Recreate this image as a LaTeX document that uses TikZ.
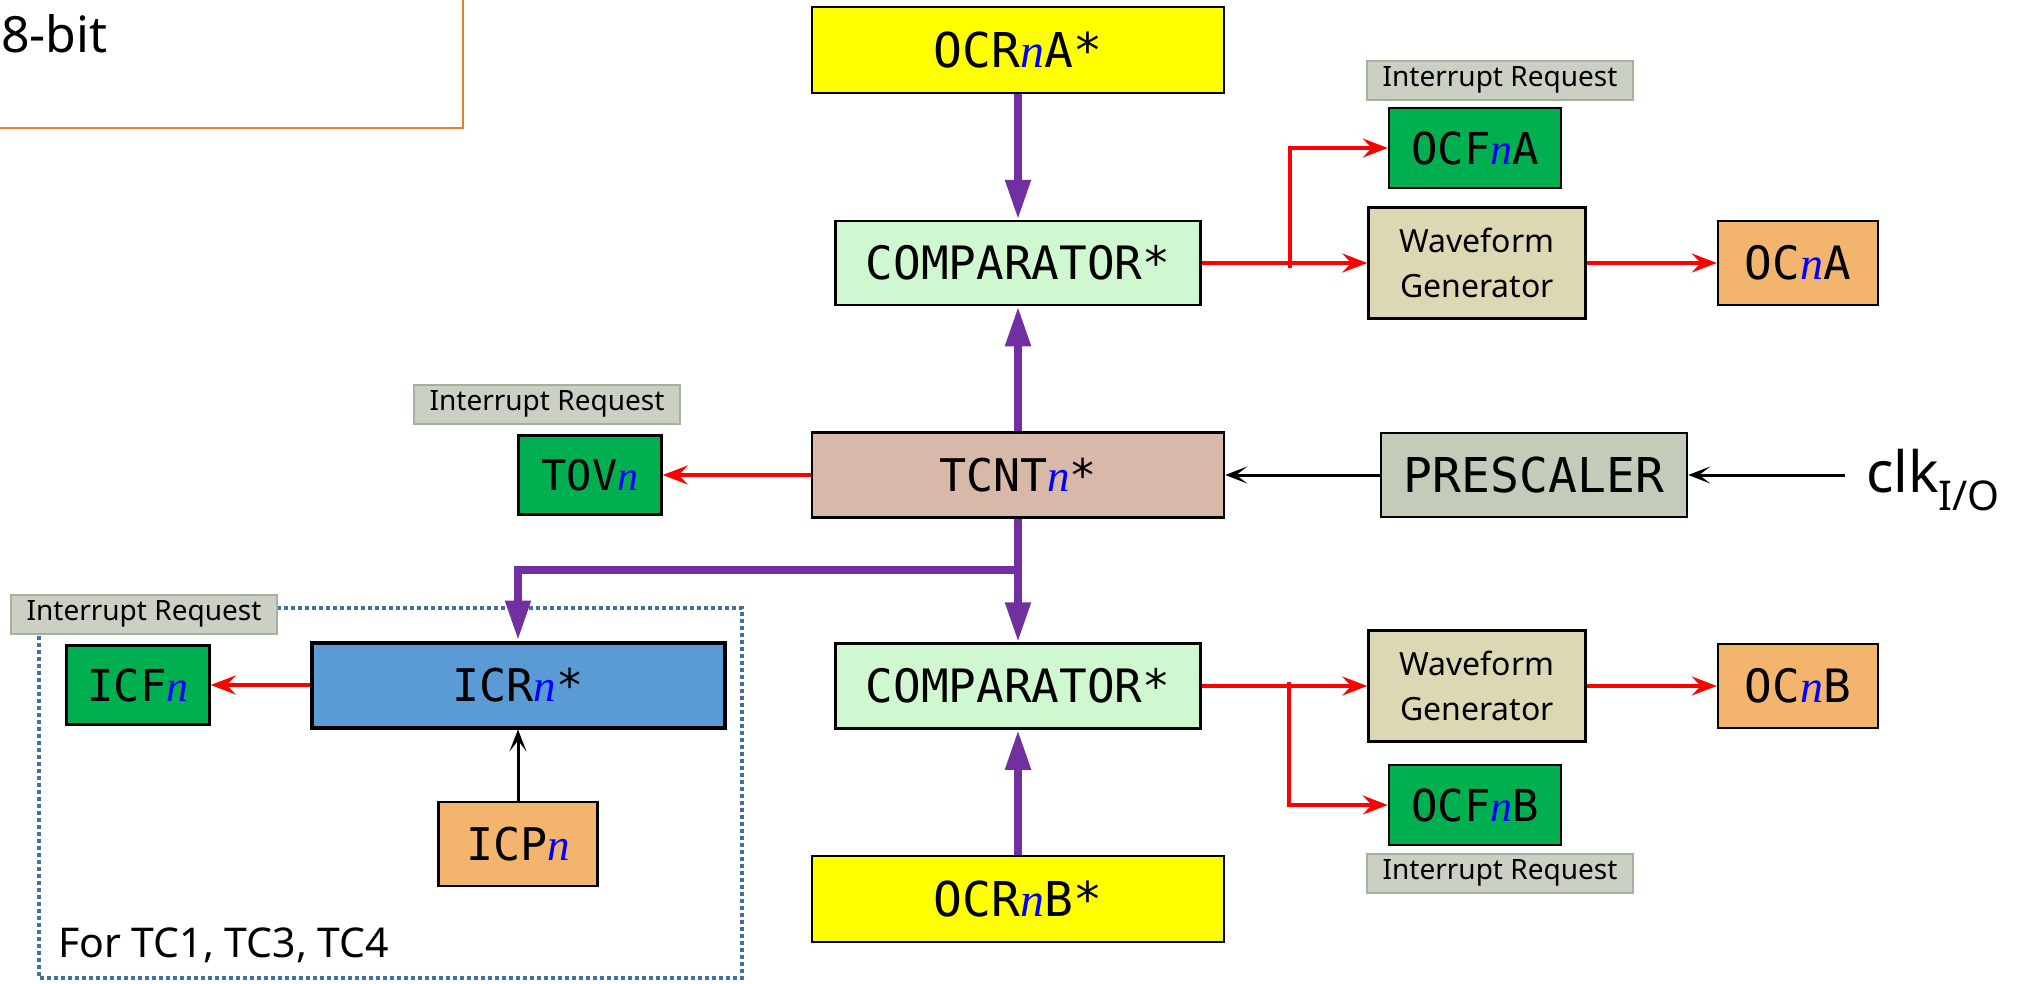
\documentclass[tikz,border=0pt]{standalone}
\usepackage{fontspec}
\setmainfont{Noto Sans}
\setmonofont{DejaVu Sans Mono}
\newfontfamily\nfont{Liberation Serif}
\usetikzlibrary{arrows.meta}

\definecolor{ocryel}{HTML}{FFFF00}
\definecolor{cmpgrn}{HTML}{D0F8D0}
\definecolor{flaggrn}{HTML}{00B050}
\definecolor{wfbeige}{HTML}{DCD8B4}
\definecolor{ocorange}{HTML}{F3B46E}
\definecolor{tcntpink}{HTML}{D8B8A9}
\definecolor{prescgray}{HTML}{C3CCB9}
\definecolor{irqfill}{HTML}{CBD0C5}
\definecolor{irqedge}{HTML}{A7B09C}
\definecolor{icrblue}{HTML}{5B9BD5}
\definecolor{buspurple}{HTML}{7030A0}
\definecolor{dotblue}{HTML}{41719C}
\definecolor{topborder}{HTML}{ED7D31}
\definecolor{nblue}{HTML}{0000FF}

\newcommand{\nn}{{\nfont\itshape\color{nblue}n}}
\newcommand{\fs}[1]{\fontsize{#1}{#1}\selectfont}

\tikzset{
	box/.style={draw=black, line width=2.5pt, inner sep=0pt, font=\ttfamily\fs{45}},
	wave/.style={box, fill=wfbeige, align=center, minimum width=217, minimum height=111, font=\fontsize{32}{45}\selectfont},
	irq/.style={draw=irqedge, fill=irqfill, line width=2pt, inner sep=0pt, minimum width=266, minimum height=39, font=\fs{28}},
	bus/.style={draw=buspurple, line width=8pt, -{Triangle[length=40pt,width=24pt]}},
	sig/.style={draw=red, line width=3.5pt, -{Stealth[length=25pt,width=19pt,inset=9pt]}},
	wire/.style={draw=black, line width=3pt, -{Stealth[length=22pt,width=17pt,inset=11pt]}}
}

\begin{document}
\begin{tikzpicture}[x=1pt, y=-1pt]
	\useasboundingbox (0,0) rectangle (2038,983);
	\clip (0,0) rectangle (2038,983);

	\draw[draw=topborder, line width=2.5pt] (-20,-20) rectangle (463,128);
	\node[anchor=base west, inner sep=0pt, font=\fs{50}] (bits) at (1,52) {8-bit};

	\draw[draw=dotblue, line width=4pt, dash pattern=on 4pt off 3pt] (39,608) rectangle (742,978);

	\node[box, fill=ocryel, minimum width=412, minimum height=86, font=\ttfamily\fs{48}] (ocrA) at (1018,50) {OCR\nn A*};
	\node[box, fill=cmpgrn, minimum width=365, minimum height=84, font=\ttfamily\fs{46}] (cmpA) at (1018,263) {COMPARATOR*};
	\node[irq] (irqA) at (1500,80) {Interrupt Request};
	\node[box, fill=flaggrn, minimum width=172, minimum height=80, font=\ttfamily\fs{44}] (ocfA) at (1475,148) {OCF\nn A};
	\node[wave] (wfA) at (1477,263) {Waveform\\Generator};
	\node[box, fill=ocorange, minimum width=160, minimum height=84, font=\ttfamily\fs{46}] (ocA) at (1798,263) {OC\nn A};

	\node[irq] (irqT) at (547,404) {Interrupt Request};
	\node[box, fill=flaggrn, minimum width=143, minimum height=79, font=\ttfamily\fs{42}] (tov) at (590,475) {TOV\nn};
	\node[box, fill=tcntpink, minimum width=412, minimum height=85] (tcnt) at (1018,475) {TCNT\nn*};
	\node[box, fill=prescgray, minimum width=306, minimum height=84, font=\ttfamily\fs{48}] (pre) at (1534,475) {PRESCALER};
	\node[anchor=base west, inner sep=0pt, font=\fs{57}] (clk) at (1866,492) {clk\raisebox{-0.32em}{\fs{41}I/O}};
	\coordinate (clkin) at (1845,475);

	\node[irq] (irqI) at (144,614) {Interrupt Request};
	\node[box, fill=flaggrn, minimum width=143, minimum height=79, font=\ttfamily\fs{44}] (icf) at (138,685) {ICF\nn};
	\node[box, fill=icrblue, line width=4pt, minimum width=413, minimum height=85] (icr) at (518,685) {ICR\nn*};
	\node[box, fill=ocorange, minimum width=159, minimum height=84] (icp) at (518,844) {ICP\nn};
	\node[anchor=base west, inner sep=0pt, font=\fs{41}] (note) at (58,957) {For TC1, TC3, TC4};

	\node[box, fill=cmpgrn, minimum width=365, minimum height=85, font=\ttfamily\fs{46}] (cmpB) at (1018,686) {COMPARATOR*};
	\node[wave] (wfB) at (1477,686) {Waveform\\Generator};
	\node[box, fill=ocorange, minimum width=160, minimum height=84, font=\ttfamily\fs{46}] (ocB) at (1798,686) {OC\nn B};
	\node[box, fill=flaggrn, minimum width=172, minimum height=80, font=\ttfamily\fs{44}] (ocfB) at (1475,805) {OCF\nn B};
	\node[irq] (irqB) at (1500,873) {Interrupt Request};
	\node[box, fill=ocryel, minimum width=412, minimum height=86, font=\ttfamily\fs{48}] (ocrB) at (1018,899) {OCR\nn B*};

	\coordinate (jn) at (1018,570);
	\coordinate (jl) at (icr.north |- jn);
	\coordinate (brA) at (1290,268);
	\coordinate (brB) at (1289,682);

	\draw[bus] (ocrA) -- (cmpA);
	\draw[bus] (tcnt) -- (cmpA);
	\draw[bus] (tcnt) -- (cmpB);
	\draw[bus] (jn) -- (jl) -- (icr);
	\draw[bus] (ocrB) -- (cmpB);

	\draw[sig] (cmpA) -- (wfA);
	\draw[sig] (brA) |- (ocfA);
	\draw[sig] (wfA) -- (ocA);
	\draw[sig] (tcnt) -- (tov);
	\draw[sig] (cmpB) -- (wfB);
	\draw[sig] (brB) |- (ocfB);
	\draw[sig] (wfB) -- (ocB);
	\draw[sig] (icr) -- (icf);

	\draw[wire] (pre) -- (tcnt);
	\draw[wire] (clkin) -- (pre);
	\draw[wire] (icp) -- (icr);
\end{tikzpicture}
\end{document}
